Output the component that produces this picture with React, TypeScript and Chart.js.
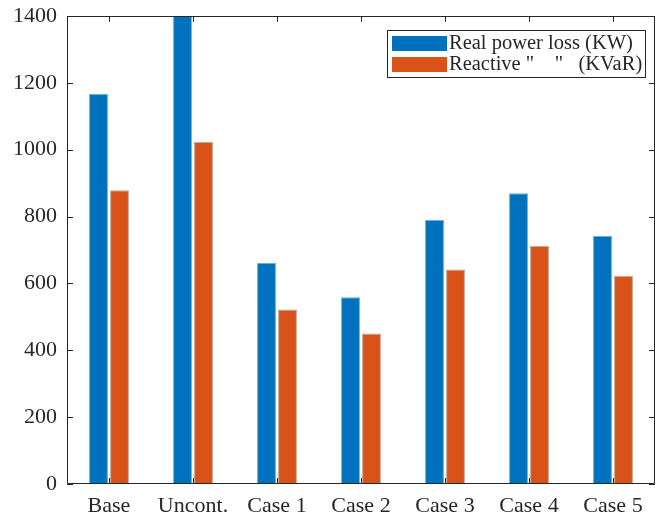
import React, { useEffect, useRef } from "react";
import { Chart, registerables } from "chart.js";

Chart.register(...registerables);

const categories = ["Base", "Uncont.", "Case 1", "Case 2", "Case 3", "Case 4", "Case 5"];
const realLoss = [1167, 1450, 661, 559, 790, 870, 742];
const reactiveLoss = [879, 1023, 522, 450, 642, 712, 622];
const yTicks = [0, 200, 400, 600, 800, 1000, 1200, 1400];
const seriesLabels = ["Real power loss (KW)", 'Reactive "    "   (KVaR)'];
const seriesColors = ["#0072BD", "#D95319"];

const FONT = "'Liberation Serif', 'DejaVu Serif', serif";
const AXIS = "#262626";

const boxPlugin = {
  id: "boxTicks",
  afterDraw(chart: any) {
    const { ctx, chartArea: a, scales } = chart;
    ctx.save();
    ctx.strokeStyle = AXIS;
    ctx.lineWidth = 1;
    ctx.beginPath();
    ctx.rect(a.left + 0.5, a.top + 0.5, a.right - a.left - 1, a.bottom - a.top - 1);
    ctx.stroke();
    const tl = 6;
    ctx.beginPath();
    yTicks.forEach((v) => {
      const y = Math.round(scales.y.getPixelForValue(v)) + 0.5;
      ctx.moveTo(a.left, y);
      ctx.lineTo(a.left + tl, y);
      ctx.moveTo(a.right, y);
      ctx.lineTo(a.right - tl, y);
    });
    categories.forEach((_, i) => {
      const x = Math.round(scales.x.getPixelForValue(i)) + 0.5;
      ctx.moveTo(x, a.bottom);
      ctx.lineTo(x, a.bottom - tl);
      ctx.moveTo(x, a.top);
      ctx.lineTo(x, a.top + tl);
    });
    ctx.stroke();

    // legend
    const lx = 387, ly = 30, lw = 258, lh = 47;
    ctx.fillStyle = "#ffffff";
    ctx.fillRect(lx, ly, lw, lh);
    ctx.strokeStyle = AXIS;
    ctx.strokeRect(lx + 0.5, ly + 0.5, lw, lh);
    ctx.font = `20.5px ${FONT}`;
    ctx.textBaseline = "middle";
    seriesLabels.forEach((t, i) => {
      const cy = ly + 13 + i * 21;
      ctx.fillStyle = seriesColors[i];
      ctx.fillRect(lx + 5, cy - 7, 55, 15);
      ctx.fillStyle = AXIS;
      ctx.fillText(t, lx + 62, cy + 1);
    });
    ctx.restore();
  },
};

export default function App() {
  const ref = useRef<HTMLCanvasElement>(null);
  useEffect(() => {
    if (!ref.current) return;
    const chart = new Chart(ref.current, {
      type: "bar",
      data: {
        labels: categories,
        datasets: [
          {
            label: seriesLabels[0],
            data: realLoss,
            backgroundColor: seriesColors[0],
            borderColor: "#5ab4ea",
            borderWidth: 1,
            categoryPercentage: 0.5,
            barPercentage: 0.9,
          },
          {
            label: seriesLabels[1],
            data: reactiveLoss,
            backgroundColor: seriesColors[1],
            borderColor: "#c8a898",
            borderWidth: 1,
            categoryPercentage: 0.5,
            barPercentage: 0.9,
          },
        ],
      },
      options: {
        animation: false,
        responsive: false,
        maintainAspectRatio: false,
        layout: { padding: { top: 16, right: 6, left: 0, bottom: 0 } },
        plugins: { legend: { display: false }, tooltip: { enabled: false } },
        scales: {
          x: {
            grid: { display: false, drawTicks: false },
            border: { display: false },
            ticks: { color: AXIS, font: { family: FONT, size: 22 }, padding: 9, maxRotation: 0 },
            afterFit: (s: any) => { s.height = 32; s.paddingLeft = 0; s.paddingRight = 0; },
          },
          y: {
            min: 0,
            max: 1400,
            grid: { display: false, drawTicks: false },
            border: { display: false },
            afterBuildTicks: (s: any) => { s.ticks = yTicks.map((v) => ({ value: v })); },
            ticks: {
              color: AXIS,
              font: { family: FONT, size: 22 },
              padding: 10,
              callback: (v: any) => String(v),
            },
            afterFit: (s: any) => { s.width = 67; s.paddingTop = 0; s.paddingBottom = 0; },
          },
        },
      },
      plugins: [boxPlugin],
    });
    return () => chart.destroy();
  }, []);
  return (
    <div style={{ position: "fixed", left: 0, top: 0, width: 661, height: 516, background: "#fff" }}>
      <canvas ref={ref} width={661} height={516} style={{ width: 661, height: 516 }} />
    </div>
  );
}
